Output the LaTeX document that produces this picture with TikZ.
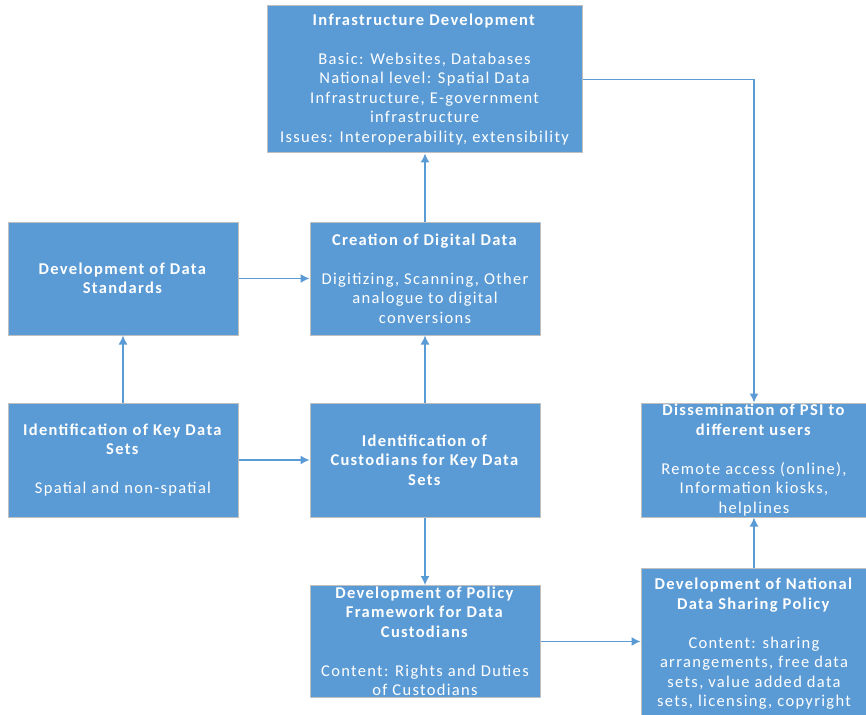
\documentclass[tikz,border=0pt]{standalone}
\usepackage{fontspec}
\setmainfont{Carlito}[LetterSpace=8]
\usetikzlibrary{arrows.meta}
\definecolor{boxblue}{HTML}{5B9BD5}
\definecolor{boxline}{HTML}{BFBFBF}
\definecolor{linkblue}{HTML}{5B9BD5}

\tikzset{
  blockbox/.style={draw=boxline, line width=1pt, fill=boxblue, text=white, align=center,
    inner sep=0pt, font=\fontsize{16.5}{19.5}\selectfont},
  link/.style={draw=linkblue, line width=1.3pt, -{Latex[length=9pt,width=9pt]}}
}

\begin{document}
\begin{tikzpicture}[x=1pt,y=1pt]
\useasboundingbox (0,0) rectangle (866,-714);
% boxes
\node[blockbox, minimum width=315, minimum height=147] (infra) at (424.5,-79.5) {\textbf{Infrastructure Development}\\[19.5pt]Basic: Websites, Databases\\National level: Spatial Data\\Infrastructure, E-government\\infrastructure\\Issues: Interoperability, extensibility};
\node[blockbox, minimum width=230, minimum height=113] (standards) at (123,-278.5) {\textbf{Development of Data}\\\textbf{Standards}};
\node[blockbox, minimum width=230, minimum height=113] (creation) at (425,-278.5) {\textbf{Creation of Digital Data}\\[19.5pt]Digitizing, Scanning, Other\\analogue to digital\\conversions};
\node[blockbox, minimum width=230, minimum height=114] (keysets) at (123,-460) {\textbf{Identification of Key Data}\\\textbf{Sets}\\[19.5pt]Spatial and non-spatial};
\node[blockbox, minimum width=230, minimum height=114] (custodians) at (425,-460) {\textbf{Identification of}\\\textbf{Custodians for Key Data}\\\textbf{Sets}};
\node[blockbox, minimum width=230, minimum height=112] (policy) at (425,-641.5) {\textbf{Development of Policy}\\\textbf{Framework for Data}\\\textbf{Custodians}\\[19.5pt]Content: Rights and Duties\\of Custodians};
\node[blockbox, minimum width=226, minimum height=114] (dissem) at (754,-460) {\textbf{Dissemination of PSI to}\\\textbf{different users}\\[19.5pt]Remote access (online),\\Information kiosks,\\helplines};
\node[blockbox, minimum width=226, minimum height=152] (national) at (754,-644) {\textbf{Development of National}\\\textbf{Data Sharing Policy}\\[19.5pt]Content: sharing\\arrangements, free data\\sets, value added data\\sets, licensing, copyright};
% connectors
\draw[link] (keysets) -- (standards);
\draw[link] (keysets) -- (custodians);
\draw[link] (standards) -- (creation);
\draw[link] (custodians) -- (creation);
\draw[link] (creation) -- (infra.south -| creation.north);
\draw[link] (custodians) -- (policy);
\draw[link] (policy.east) -- (policy.east -| national.west);
\draw[link] (national) -- (dissem);
\draw[link] (infra.east) -| (dissem.north);
\end{tikzpicture}
\end{document}
